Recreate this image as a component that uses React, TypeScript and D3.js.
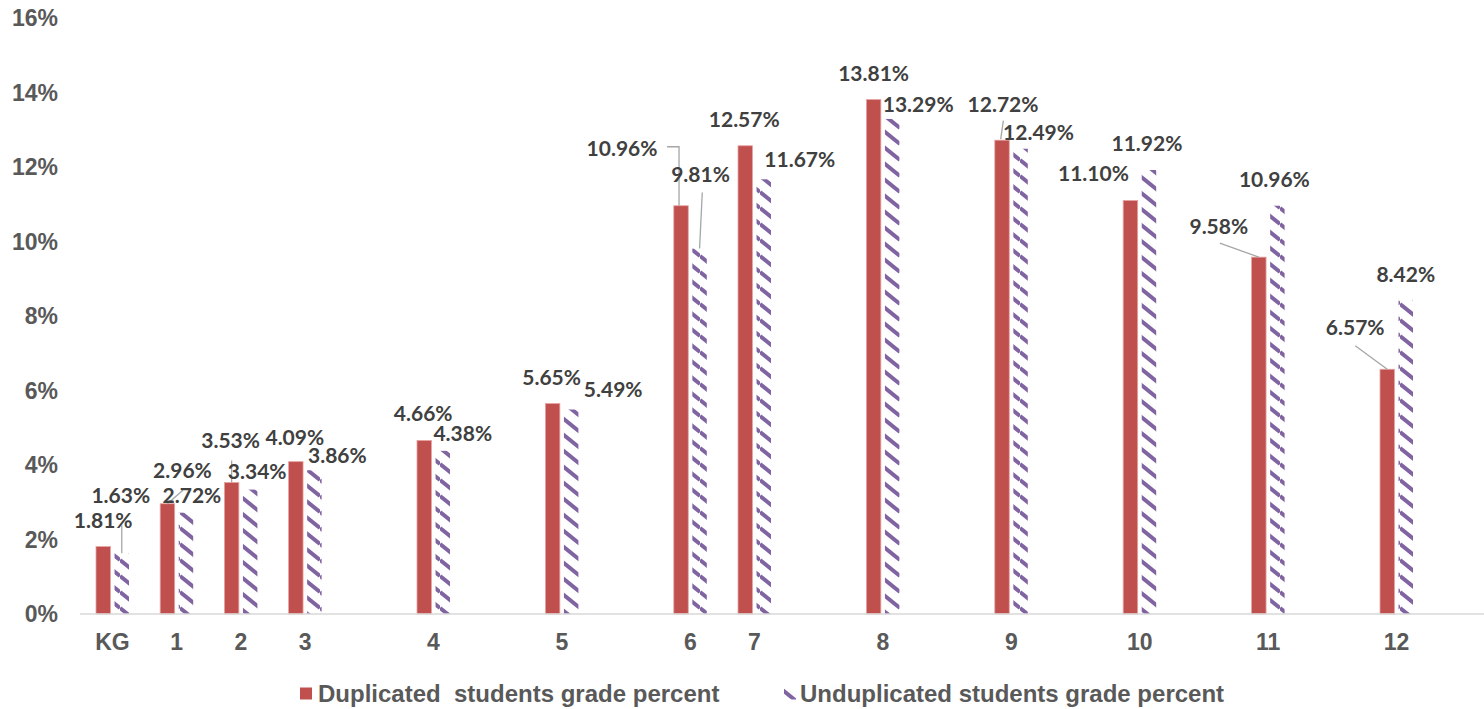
import React from "react";
import * as d3 from "d3";

const categories = ["KG", "1", "2", "3", "4", "5", "6", "7", "8", "9", "10", "11", "12"];
// categories that are preceded by an empty slot on the category axis
const gapsBefore = ["4", "5", "6", "8", "9", "10", "11", "12"];
const seriesNames = ["Duplicated  students grade percent", "Unduplicated students grade percent"];
const duplicated = [1.81, 2.96, 3.53, 4.09, 4.66, 5.65, 10.96, 12.57, 13.81, 12.72, 11.1, 9.58, 6.57];
const unduplicated = [1.63, 2.72, 3.34, 3.86, 4.38, 5.49, 9.81, 11.67, 13.29, 12.49, 11.92, 10.96, 8.42];
const yTicks = [0, 2, 4, 6, 8, 10, 12, 14, 16];

// label placement (px offsets of label centre from the bar's top centre)
const dupLabelOffsets: [number, number][] = [
  [0, -26], [15, -33], [-1, -42], [-1, -24], [-1, -27], [-1, -26], [-59, -57],
  [-1, -26], [0, -26], [1, -36], [-37, -27], [-40, -31], [-32, -42],
];
const undupLabelOffsets: [number, number][] = [
  [-1, -58], [6, -17], [7, -18], [23, -15], [20, -17], [42, -20], [1, -74],
  [36, -20], [26, -15], [18, -16], [-2, -27], [-3, -26], [0, -26],
];
// leader lines: [series, category index, points relative to bar top centre]
const leaders: [number, number, [number, number][]][] = [
  [1, 0, [[0, -28], [0, 0]]],
  [0, 1, [[15.5, -13.5], [0, 0]]],
  [0, 2, [[0, -22], [0, 0]]],
  [0, 6, [[-14, -59], [-2, -59], [-2, 0]]],
  [1, 6, [[2.7, -56], [0, 0]]],
  [0, 9, [[1.3, -19.5], [-1.3, -1]]],
  [0, 11, [[-39, -14], [0, 0]]],
  [0, 12, [[-32, -23.5], [0, 0]]],
];

const W = 1484;
const H = 709;
const RED = "#C0504D";
const PURPLE = "#8064A2";
const AXIS_TEXT = "#595959";
const LABEL_TEXT = "#404040";
const AXIS_FONT = "'Liberation Sans', Arial, sans-serif";
const LABEL_FONT = "Lato, 'Open Sans', sans-serif";

export default function App() {
  const slots: string[] = [];
  categories.forEach((c) => {
    if (gapsBefore.includes(c)) slots.push("gap-" + c);
    slots.push(c);
  });

  const x = d3.scaleBand<string>().domain(slots).range([80.4, 1428.6]).paddingInner(0).paddingOuter(0);
  const bw = x.bandwidth();
  const x1 = d3
    .scaleBand<string>()
    .domain(["dup", "undup"])
    .range([bw / 2 - 16.5, bw / 2 + 16.5])
    .paddingInner(0.22);
  const y = d3.scaleLinear().domain([0, 16]).range([614, 18]);

  const series = [
    { key: "dup", values: duplicated, offsets: dupLabelOffsets },
    { key: "undup", values: unduplicated, offsets: undupLabelOffsets },
  ];

  const barCenter = (si: number, ci: number) =>
    (x(categories[ci]) as number) + (x1(series[si].key) as number) + x1.bandwidth() / 2;
  const barTop = (si: number, ci: number) => y(series[si].values[ci]);

  const line = d3.line();

  return (
    <svg
      width={W}
      height={H}
      style={{ position: "absolute", left: 0, top: 0, background: "#fff" }}
    >
      <defs>
        <pattern id="hatch" patternUnits="userSpaceOnUse" width={20} height={16}>
          <rect width={20} height={16} fill="#fff" />
          {[-16, 0, 16].map((o) => (
            <line key={o} x1={0} y1={o} x2={20} y2={16 + o} stroke={PURPLE} strokeWidth={4} />
          ))}
        </pattern>
      </defs>

      {/* y tick labels */}
      {yTicks.map((t) => (
        <text
          key={t}
          x={58}
          y={y(t) + 8.2}
          textAnchor="end"
          fontFamily={AXIS_FONT}
          fontWeight="bold"
          fontSize={23}
          fill={AXIS_TEXT}
        >
          {t + "%"}
        </text>
      ))}

      {/* bars */}
      {series.map((s, si) =>
        s.values.map((v, ci) => (
          <rect
            key={s.key + ci}
            x={(x(categories[ci]) as number) + (x1(s.key) as number)}
            y={y(v)}
            width={x1.bandwidth()}
            height={y(0) - y(v)}
            fill={si === 0 ? RED : "url(#hatch)"}
            stroke={si === 0 ? "#E6A3A1" : "none"}
            strokeWidth={si === 0 ? 0.8 : 0}
          />
        ))
      )}

      {/* axis line */}
      <line x1={80} x2={1484} y1={614} y2={614} stroke="#D9D9D9" strokeWidth={1.5} />

      {/* x tick labels */}
      {categories.map((c) => (
        <text
          key={c}
          x={(x(c) as number) + bw / 2}
          y={649.5}
          textAnchor="middle"
          fontFamily={AXIS_FONT}
          fontWeight="bold"
          fontSize={23}
          fill={AXIS_TEXT}
        >
          {c}
        </text>
      ))}

      {/* leader lines */}
      {leaders.map(([si, ci, pts], i) => {
        const cx = barCenter(si, ci);
        const cy = barTop(si, ci);
        return (
          <path
            key={"ld" + i}
            d={line(pts.map(([dx, dy]) => [cx + dx, cy + dy] as [number, number])) || ""}
            fill="none"
            stroke="#A6A6A6"
            strokeWidth={1.3}
          />
        );
      })}

      {/* data labels */}
      {series.map((s, si) =>
        s.values.map((v, ci) => {
          const [dx, dy] = s.offsets[ci];
          return (
            <text
              key={"lb" + s.key + ci}
              x={barCenter(si, ci) + dx}
              y={barTop(si, ci) + dy + 7.6}
              textAnchor="middle"
              fontFamily={LABEL_FONT}
              fontWeight="bold"
              fontSize={21}
              fill={LABEL_TEXT}
            >
              {v.toFixed(2) + "%"}
            </text>
          );
        })
      )}

      {/* legend */}
      <rect x={300} y={687.5} width={12} height={12} fill={RED} />
      <text
        x={318}
        y={701.5}
        fontFamily={AXIS_FONT}
        fontWeight="bold"
        fontSize={24}
        fill={AXIS_TEXT}
        style={{ whiteSpace: "pre" }}
      >
        {seriesNames[0]}
      </text>
      <rect x={784} y={687.5} width={12} height={12} fill="url(#hatch)" />
      <text
        x={800}
        y={701.5}
        fontFamily={AXIS_FONT}
        fontWeight="bold"
        fontSize={24}
        fill={AXIS_TEXT}
        style={{ whiteSpace: "pre" }}
      >
        {seriesNames[1]}
      </text>
    </svg>
  );
}
